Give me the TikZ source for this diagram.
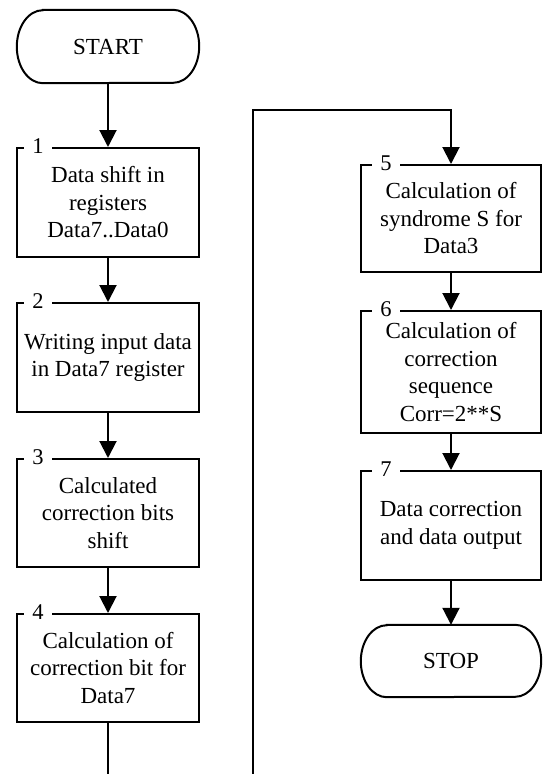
\documentclass[tikz,border=0pt]{standalone}
\usepackage{fontspec}
\setmainfont{Liberation Serif}
\usetikzlibrary{arrows.meta}
\begin{document}
\begin{tikzpicture}[x=1pt,y=-1pt,
  lw/.style={line width=2pt},
  box/.style={draw,lw,rectangle,inner sep=0pt,align=center,
    font=\fontsize{23}{27.5}\selectfont},
  lbox/.style={box,minimum width=182pt},
  rbox/.style={box,minimum width=180pt},
  term/.style={inner sep=0pt,minimum height=73pt,font=\fontsize{23}{27.5}\selectfont},
  num/.style={fill=white,inner xsep=8pt,inner ysep=0pt,font=\fontsize{22.5}{24}\selectfont},
  arr/.style={lw,-{Triangle[length=17pt,width=17pt]}},
  con/.style={lw}]
\useasboundingbox (0,0) rectangle (542,774);
\fill[white] (0,0) rectangle (542,774);

% START terminal
\node[term,minimum width=182pt] (start) at (108,46.5) {START};
\draw[lw] ([xshift=26pt]start.north west) -- ([xshift=-26pt]start.north east)
  arc[start angle=90,end angle=-90,x radius=26pt,y radius=36.5pt]
  -- ([xshift=26pt]start.south west)
  arc[start angle=270,end angle=90,x radius=26pt,y radius=36.5pt] -- cycle;

% left column
\node[lbox,minimum height=109pt] (b1) at (108,202.5) {Data shift in\\registers\\Data7..Data0};
\node[lbox,minimum height=109pt] (b2) at (108,357.5) {Writing input data\\in Data7 register};
\node[lbox,minimum height=108pt] (b3) at (108,513) {Calculated\\correction bits\\shift};
\node[lbox,minimum height=108pt] (b4) at (108,668) {Calculation of\\correction bit for\\Data7};

% right column
\node[rbox,minimum height=107pt] (b5) at (451,218.5) {Calculation of\\syndrome S for\\Data3};
\node[rbox,minimum height=122pt] (b6) at (451,372) {Calculation of\\correction\\sequence\\Corr=2**S};
\node[rbox,minimum height=109pt] (b7) at (451,525.5) {Data correction\\and data output};

% STOP terminal
\node[term,minimum width=180pt,minimum height=72pt] (stop) at (451,661) {STOP};
\draw[lw] ([xshift=26pt]stop.north west) -- ([xshift=-26pt]stop.north east)
  arc[start angle=90,end angle=-90,x radius=26pt,y radius=36pt]
  -- ([xshift=26pt]stop.south west)
  arc[start angle=270,end angle=90,x radius=26pt,y radius=36pt] -- cycle;

% number labels
\node[num] (n1) at ([xshift=22pt,yshift=1pt]b1.north west) {1};
\node[num] (n2) at ([xshift=22pt,yshift=1pt]b2.north west) {2};
\node[num] (n3) at ([xshift=22pt,yshift=1pt]b3.north west) {3};
\node[num] (n4) at ([xshift=22pt,yshift=1pt]b4.north west) {4};
\node[num] (n5) at ([xshift=26pt,yshift=1pt]b5.north west) {5};
\node[num] (n6) at ([xshift=26pt,yshift=1pt]b6.north west) {6};
\node[num] (n7) at ([xshift=26pt,yshift=1pt]b7.north west) {7};

% connectors
\coordinate (c1) at (108,774);
\coordinate (c2) at (253,774);
\coordinate (c3) at (253,110);
\draw[arr] (start.south) -- (b1.north);
\draw[arr] (b1.south) -- (b2.north);
\draw[arr] (b2.south) -- (b3.north);
\draw[arr] (b3.south) -- (b4.north);
\draw[con] (b4.south) -- (c1);
\draw[arr] (c2) -- (c3) -| (b5.north);
\draw[arr] (b5.south) -- (b6.north);
\draw[arr] (b6.south) -- (b7.north);
\draw[arr] (b7.south) -- (stop.north);
\end{tikzpicture}
\end{document}
